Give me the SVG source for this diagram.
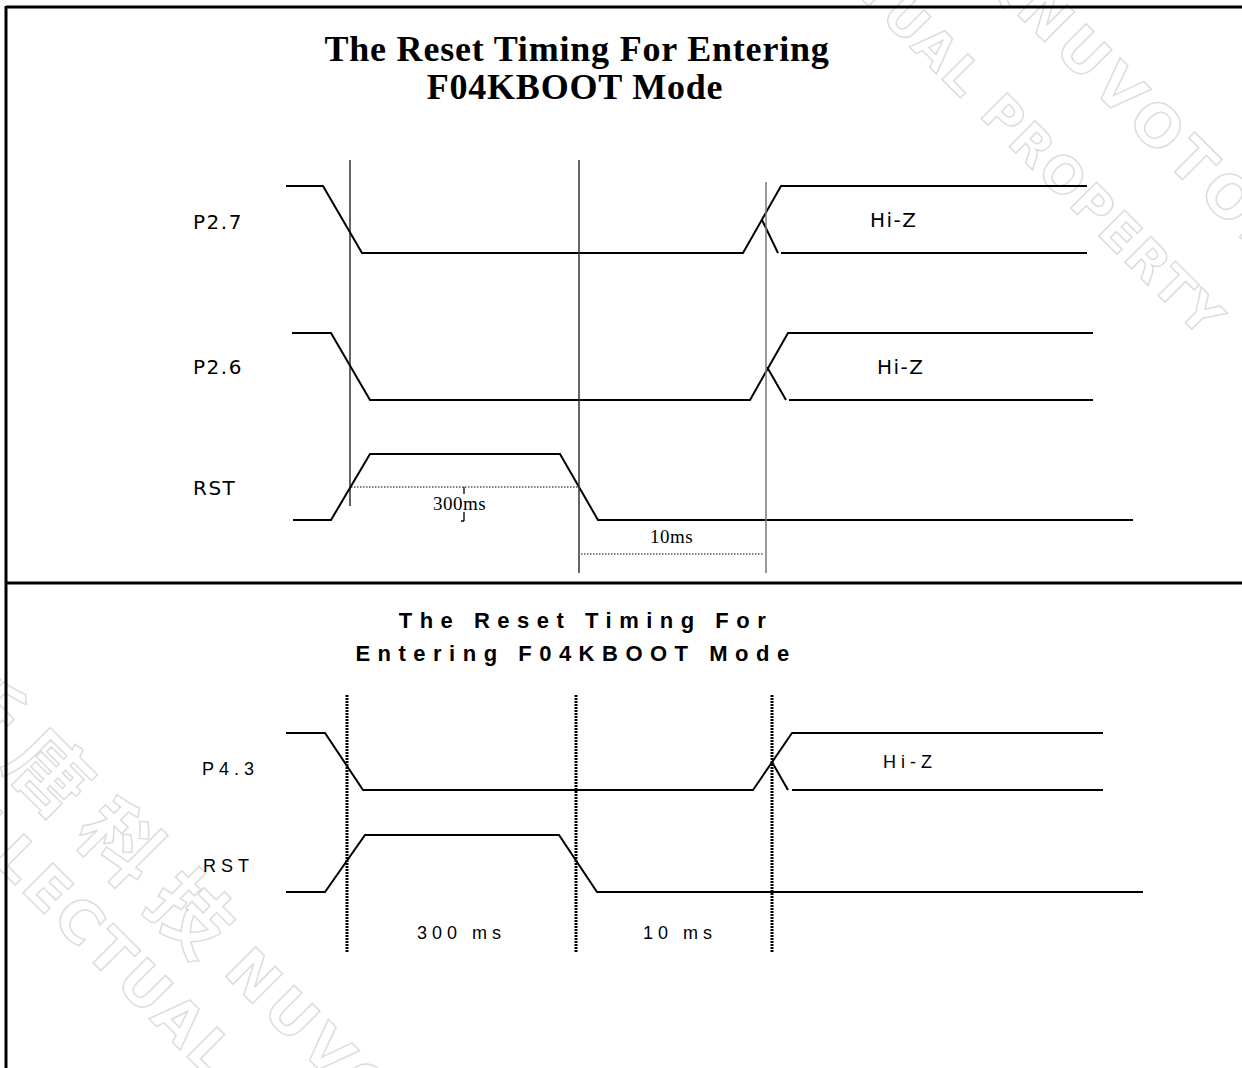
<svg xmlns="http://www.w3.org/2000/svg" width="1242" height="1068" viewBox="0 0 1242 1068">
<style>
.wm{fill:none;stroke:#dcdcdc;stroke-width:1.5;font-family:"DejaVu Sans","Noto Sans CJK SC",sans-serif;font-weight:bold}
.sig{fill:none;stroke:#000;stroke-width:2;stroke-linejoin:miter}
.frame{fill:none;stroke:#000;stroke-width:3}
.t1{font-family:"Liberation Serif",serif;font-weight:bold;font-size:36px;letter-spacing:0.8px;fill:#000;text-anchor:middle}
.t2{font-family:"Liberation Sans",Arial,sans-serif;font-weight:bold;font-size:22px;letter-spacing:7.5px;fill:#000;text-anchor:middle}
.lbl1{font-family:"DejaVu Sans",sans-serif;font-size:20px;fill:#000}
.lbl2{font-family:"Liberation Sans",Arial,sans-serif;font-size:18px;letter-spacing:5px;fill:#000}
.ser{font-family:"Liberation Serif",serif;font-size:19px;fill:#000}
.dot1{stroke:#000;stroke-width:1;stroke-dasharray:1.5 1.5;fill:none}
.dot2{stroke:#000;stroke-width:3;stroke-dasharray:2 1;fill:none}
</style>
<rect width="1242" height="1068" fill="#fff"/>
<g id="watermark">
  <g transform="rotate(45)">
    <text class="wm" x="1092" y="-610" font-size="50" letter-spacing="3" text-anchor="end">INTELLECTUAL PROPERTY</text>
    <text class="wm" x="725" y="-709" font-size="62" letter-spacing="4" text-anchor="end">新唐科技 </text>
    <text class="wm" x="725" y="-709" font-size="58" letter-spacing="6">NUVOTON</text>
    <text class="wm" x="441" y="540" font-size="80" letter-spacing="20">新唐科技</text>
    <text class="wm" x="845" y="531" font-size="58" letter-spacing="6">NUVOTON</text>
    <text class="wm" x="395" y="615" font-size="58" letter-spacing="4">INTELLECTUAL PROPERTY</text>
  </g>
</g>
<g id="frame">
  <line class="frame" x1="6" y1="7" x2="1242" y2="7"/>
  <line class="frame" x1="6" y1="6" x2="6" y2="1068"/>
  <line class="frame" x1="6" y1="583" x2="1242" y2="583"/>
</g>
<g id="title-top">
  <text class="t1" x="577" y="61">The Reset Timing For Entering</text>
  <text class="t1" x="575" y="99">F04KBOOT Mode</text>
</g>
<g id="labels-top">
  <text class="lbl1" x="193" y="229" font-size="21" letter-spacing="1.5">P2.7</text>
  <text class="lbl1" x="193" y="374" font-size="21" letter-spacing="1.5">P2.6</text>
  <text class="lbl1" x="193" y="495" font-size="21" letter-spacing="1.5">RST</text>
  <text class="lbl1" x="870" y="227" letter-spacing="1.5">Hi-Z</text>
  <text class="lbl1" x="877" y="374" letter-spacing="1.5">Hi-Z</text>
  <text class="ser" x="433" y="510" letter-spacing="0.5">300ms</text>
  <text class="ser" x="650" y="543" letter-spacing="0.5">10ms</text>
</g>
<g id="signals-top">
  <path id="p27" class="sig" d="M286 186 H323 L362 253 H743 L781 186 H1087 M762 220 L778 253 M781 253 H1087"/>
  <path id="p26" class="sig" d="M292 333 H331 L370 400 H750 L788 333 H1093 M767 367 L786 400 M789 400 H1093"/>
  <path id="rst1" class="sig" d="M293 520 H331 L370 454 H560 L598 520 H1133"/>
</g>
<g id="connectors">
  <line x1="350" y1="160" x2="350" y2="506" stroke="#111" stroke-width="1.3"/>
  <line x1="579" y1="160" x2="579" y2="573" stroke="#333" stroke-width="1.5"/>
  <line x1="766" y1="182" x2="766" y2="573" stroke="#777" stroke-width="1.5"/>
  <line class="dot1" x1="351" y1="487" x2="578" y2="487"/>
  <line class="dot1" x1="581" y1="554" x2="764" y2="554"/>
  <path d="M464 487 V494 M464 512 V521 M461 521 H464" stroke="#000" stroke-width="1.3" fill="none"/>
  <line class="dot2" x1="347" y1="695" x2="347" y2="952"/>
  <line class="dot2" x1="576" y1="695" x2="576" y2="952"/>
  <line class="dot2" x1="772" y1="695" x2="772" y2="952"/>
</g>
<g id="title-bottom">
  <text class="t2" x="586" y="628">The Reset Timing For</text>
  <text class="t2" x="576" y="661" letter-spacing="8">Entering F04KBOOT Mode</text>
</g>
<g id="labels-bottom">
  <text class="lbl2" x="202" y="775">P4.3</text>
  <text class="lbl2" x="203" y="872">RST</text>
  <text class="lbl2" x="883" y="768" letter-spacing="4">Hi-Z</text>
  <text class="lbl2" x="417" y="939">300 ms</text>
  <text class="lbl2" x="643" y="939">10 ms</text>
</g>
<g id="signals-bottom">
  <path id="p43" class="sig" d="M286 733 H325 L363 790 H753 L792 733 H1103 M772 762 L788 790 M792 790 H1103"/>
  <path id="rst2" class="sig" d="M286 892 H325 L365 835 H559 L597 892 H1143"/>
</g>
</svg>
